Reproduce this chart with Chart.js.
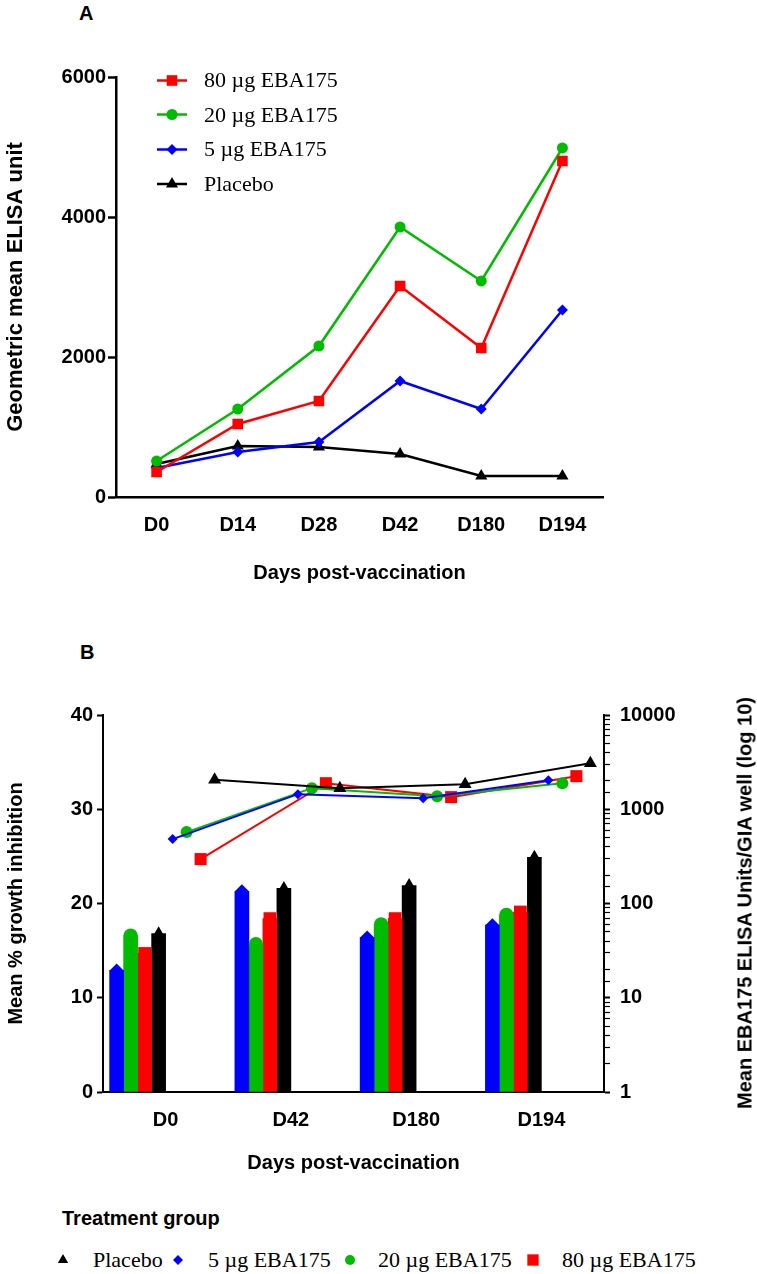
<!DOCTYPE html>
<html>
<head>
<meta charset="utf-8">
<script src="https://cdn.jsdelivr.net/npm/chart.js@4.4.0/dist/chart.umd.min.js"></script>
<style>
  html, body { margin: 0; padding: 0; background: #fff; }
  #page { position: relative; width: 757px; height: 1274px; overflow: hidden; font-family: 'Liberation Sans', Arial, sans-serif; color: #000; }
  canvas { position: absolute; left: 0; }
  .tag { position: absolute; font-weight: bold; font-size: 20px; line-height: 24px; }
  .leg { position: absolute; font-family: 'Liberation Serif', 'Times New Roman', serif; font-size: 22px; line-height: 24px; white-space: nowrap; }
  .leg svg { position: absolute; }
  #rightTitle { position: absolute; left: 745px; top: 903px; transform: translate(-50%, -50%) rotate(-90deg); font-weight: bold; font-size: 20px; white-space: nowrap; }
</style>
</head>
<body>
<div id="page">
  <div class="tag" style="left:79px; top:1px;">A</div>
  <canvas id="chartA" width="757" height="600" style="top:0;"></canvas>
  <div id="legendA"></div>

  <div class="tag" style="left:80px; top:640px;">B</div>
  <canvas id="chartB" width="757" height="540" style="top:640px;"></canvas>
  <div id="rightTitle">Mean EBA175 ELISA Units/GIA well (log 10)</div>
  <div class="tag" style="left:62px; top:1206px;">Treatment group</div>
  <div id="legendB"></div>
</div>
<script>
// ---- panel A: geometric mean ELISA units ----
const daysA = ['D0', 'D14', 'D28', 'D42', 'D180', 'D194'];
const elisa80 = [357, 1043, 1371, 3014, 2129, 4800];
const elisa20 = [514, 1257, 2157, 3857, 3086, 4986];
const elisa5 = [414, 643, 786, 1657, 1257, 2671];
const elisaPlacebo = [471, 729, 714, 614, 300, 300];
const ticksA = [0, 2000, 4000, 6000];

// ---- panel B: growth inhibition (bars) and ELISA units per GIA well (lines) ----
const daysB = ['D0', 'D42', 'D180', 'D194'];
const gia5 = [12.9, 21.3, 16.4, 17.7];
const gia20 = [16.6, 15.7, 17.8, 18.8];
const gia80 = [14.7, 18.4, 18.4, 19.1];
const giaPlacebo = [16.8, 21.6, 21.9, 24.9];
const units5 = [482, 1445, 1312, 2036];
const units20 = [572, 1675, 1377, 1890];
const units80 = [296, 1890, 1345, 2244];
const unitsPlacebo = [2050, 1675, 1846, 3080];
const ticksGia = [0, 10, 20, 30, 40];
const ticksUnits = [1, 10, 100, 1000, 10000];

const groupNames = ['80 µg EBA175', '20 µg EBA175', '5 µg EBA175', 'Placebo'];

const RED = '#ff0000', GREEN = '#00bb00', BLUE = '#0000ff', BLACK = '#000000';
const FONT = "'Liberation Sans', Arial, sans-serif";
const bold20 = { family: FONT, size: 20, weight: 'bold' };

Chart.defaults.color = '#000';
Chart.defaults.font.family = FONT;

function markerSvg(shape, color, r, lineW) {
  const w = lineW || Math.ceil(2 * r + 2), h = Math.ceil(2 * r + 2);
  const cx = w / 2, cy = h / 2;
  let el = '';
  if (shape === 'rect') {
    const s = r * Math.SQRT1_2;
    el = `<rect x="${cx - s}" y="${cy - s}" width="${2 * s}" height="${2 * s}" fill="${color}"/>`;
  } else if (shape === 'circle') {
    el = `<circle cx="${cx}" cy="${cy}" r="${r}" fill="${color}"/>`;
  } else if (shape === 'rectRot') {
    el = `<polygon points="${cx},${cy - r} ${cx + r},${cy} ${cx},${cy + r} ${cx - r},${cy}" fill="${color}"/>`;
  } else {
    const dx = r * Math.sin(2 * Math.PI / 3);
    el = `<polygon points="${cx},${cy - r} ${cx + dx},${cy + r / 2} ${cx - dx},${cy + r / 2}" fill="${color}"/>`;
  }
  const line = lineW ? `<line x1="0" y1="${cy}" x2="${w}" y2="${cy}" stroke="${color}" stroke-width="2.5"/>` : '';
  return `<svg width="${w}" height="${h}" style="left:${-w / 2}px; top:${12 - h / 2}px">${line}${el}</svg>`;
}

// panel A
const styleA = [
  { color: RED, shape: 'rect', r: 7.5 },
  { color: GREEN, shape: 'circle', r: 5.5 },
  { color: BLUE, shape: 'rectRot', r: 5.5 },
  { color: BLACK, shape: 'triangle', r: 7 }
];
const seriesA = [elisa80, elisa20, elisa5, elisaPlacebo];

new Chart(document.getElementById('chartA'), {
  type: 'line',
  data: {
    labels: daysA,
    datasets: seriesA.map((d, i) => ({
      label: groupNames[i],
      data: d,
      borderColor: styleA[i].color,
      backgroundColor: styleA[i].color,
      pointStyle: styleA[i].shape,
      pointRadius: styleA[i].r,
      pointBorderWidth: 0,
      borderWidth: 2.5,
      tension: 0
    }))
  },
  options: {
    responsive: false,
    animation: false,
    layout: { padding: { top: 77, right: 154, left: 0, bottom: 0 } },
    plugins: { legend: { display: false }, tooltip: { enabled: false } },
    scales: {
      x: {
        offset: true,
        grid: { display: false },
        border: { color: '#000', width: 2.5 },
        ticks: { font: bold20, color: '#000', padding: 8 },
        title: { display: true, text: 'Days post-vaccination', font: bold20, color: '#000', padding: { top: 0, bottom: 15 } },
        afterFit: s => { s.height = 103; }
      },
      y: {
        min: 0, max: 6000,
        afterBuildTicks: s => { s.ticks = ticksA.map(v => ({ value: v })); },
        grid: { drawOnChartArea: false, tickLength: 8, tickWidth: 2.5, tickColor: '#000' },
        border: { color: '#000', width: 2.5 },
        ticks: { font: bold20, color: '#000', padding: 2, callback: v => String(v) },
        title: { display: true, text: 'Geometric mean ELISA unit', font: { family: FONT, size: 22, weight: 'bold' }, color: '#000', padding: { top: 3, bottom: 0 } },
        afterFit: s => { s.width = 116; }
      }
    }
  }
});

document.getElementById('legendA').innerHTML = groupNames.map((name, i) => {
  const st = styleA[i];
  const top = 68 + i * 34.5;
  return `<div class="leg" style="left:172px; top:${top}px;">${markerSvg(st.shape, st.color, st.r, 30)}<span style="position:absolute; left:32px; top:0;">${name}</span></div>`;
}).join('');

// panel B: each day holds 8 slots, 4 bars on the left, 4 line points on the right
const GROUP_PCT = 0.894;
const SLOTS = 8;
const slotW = GROUP_PCT / SLOTS;
const BAR_PX = 14;
function atSlot(values, slot) {
  return values.map((v, i) => ({ x: i + (slot - (SLOTS - 1) / 2) * slotW, y: v }));
}

const styleB = [
  { color: BLUE, shape: 'rectRot', capR: 7, r: 5 },
  { color: GREEN, shape: 'circle', capR: 7, r: 6 },
  { color: RED, shape: 'rect', capR: 9, r: 8.5 },
  { color: BLACK, shape: 'triangle', capR: 7.5, r: 7.5 }
];
const giaSeries = [gia5, gia20, gia80, giaPlacebo];
const unitSeries = [units5, units20, units80, unitsPlacebo];
const nameB = [groupNames[2], groupNames[1], groupNames[0], groupNames[3]];

const datasetsB = [];
giaSeries.forEach((d, i) => {
  datasetsB.push({
    type: 'bar', label: nameB[i], data: atSlot(d, i), xAxisID: 'x2', yAxisID: 'y',
    backgroundColor: styleB[i].color, grouped: false, barThickness: BAR_PX, order: 5
  });
});
giaSeries.forEach((d, i) => {
  datasetsB.push({
    type: 'line', data: atSlot(d, i), xAxisID: 'x2', yAxisID: 'y', showLine: false,
    pointStyle: styleB[i].shape, pointRadius: styleB[i].capR, pointBorderWidth: 0,
    backgroundColor: styleB[i].color, borderColor: styleB[i].color, order: 4
  });
});
unitSeries.forEach((d, i) => {
  datasetsB.push({
    type: 'line', label: nameB[i], data: atSlot(d, 4 + i), xAxisID: 'x2', yAxisID: 'y2',
    pointStyle: styleB[i].shape, pointRadius: styleB[i].r, pointBorderWidth: 0,
    backgroundColor: styleB[i].color, borderColor: styleB[i].color, borderWidth: 2, tension: 0, order: i === 3 ? 0 : 1
  });
});

new Chart(document.getElementById('chartB'), {
  type: 'bar',
  data: { labels: daysB, datasets: datasetsB },
  options: {
    responsive: false,
    animation: false,
    layout: { padding: { top: 75, right: 0, left: 0, bottom: 0 } },
    plugins: { legend: { display: false }, tooltip: { enabled: false } },
    scales: {
      x: {
        type: 'category',
        offset: true,
        grid: { display: false },
        border: { color: '#000', width: 2 },
        ticks: { font: bold20, color: '#000', padding: 8 },
        title: { display: true, text: 'Days post-vaccination', font: bold20, color: '#000', padding: { top: 0, bottom: 5 } },
        afterFit: s => { s.height = 88; }
      },
      x2: { type: 'linear', display: false, offset: false, min: -0.5, max: daysB.length - 0.5 },
      y: {
        position: 'left',
        min: 0, max: 40,
        afterBuildTicks: s => { s.ticks = ticksGia.map(v => ({ value: v })); },
        grid: { drawOnChartArea: false, tickLength: 6, tickWidth: 2, tickColor: '#000' },
        border: { color: '#000', width: 2 },
        ticks: { font: bold20, color: '#000', padding: 4 },
        title: { display: true, text: 'Mean % growth inhibition', font: bold20, color: '#000', padding: { top: 4, bottom: 0 } },
        afterFit: s => { s.width = 103; }
      },
      y2: {
        type: 'logarithmic',
        position: 'right',
        min: 1, max: 10000,
        grid: {
          drawOnChartArea: false, tickLength: 6, tickColor: '#000',
          tickWidth: c => (c.tick && ticksUnits.includes(c.tick.value)) ? 2 : 1.2
        },
        border: { color: '#000', width: 2 },
        ticks: {
          font: bold20, color: '#000', padding: 10, autoSkip: false,
          callback: v => ticksUnits.includes(v) ? String(v) : ''
        },
        afterFit: s => { s.width = 153; }
      }
    }
  }
});

// bottom legend of panel B
const legendOrder = [3, 0, 1, 2];
const markX = [63, 178, 350, 533];
const textX = [93, 208, 378, 562];
const legStyleR = [6, 5, 5, 8];
document.getElementById('legendB').innerHTML = legendOrder.map((k, j) => {
  const st = styleB[k];
  return `<div class="leg" style="left:${markX[j]}px; top:1248px;">${markerSvg(st.shape, st.color, legStyleR[j])}<span style="position:absolute; left:${textX[j] - markX[j]}px; top:0;">${nameB[k]}</span></div>`;
}).join('');
</script>
</body>
</html>
